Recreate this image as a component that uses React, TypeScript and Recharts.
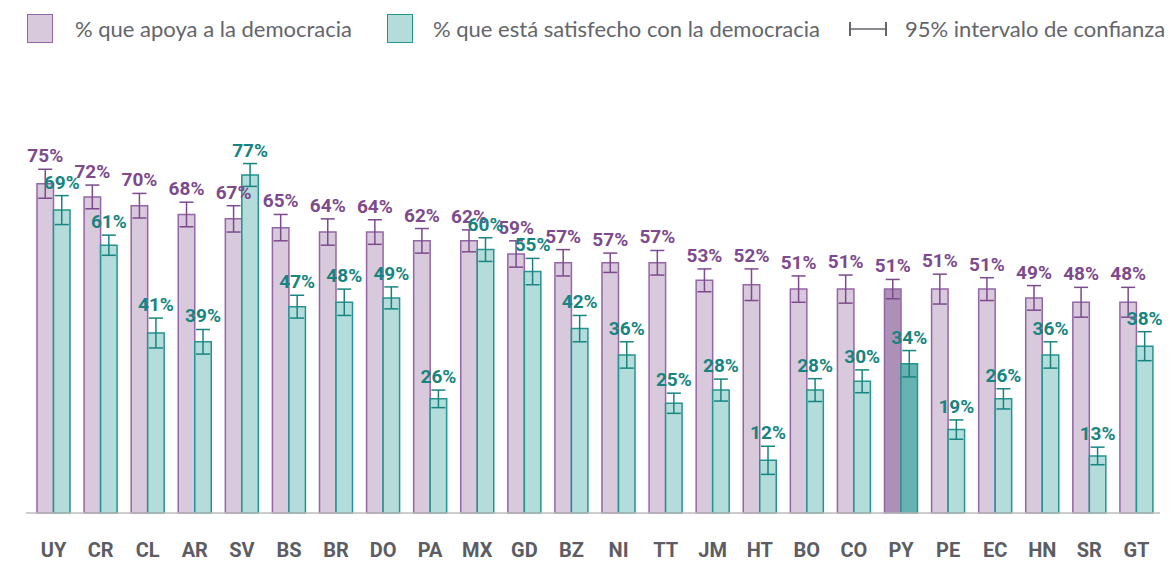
import React from 'react';
import { BarChart, Bar, XAxis, YAxis, ErrorBar, LabelList, Cell } from 'recharts';

const categories = ['UY', 'CR', 'CL', 'AR', 'SV', 'BS', 'BR', 'DO', 'PA', 'MX', 'GD', 'BZ', 'NI', 'TT', 'JM', 'HT', 'BO', 'CO', 'PY', 'PE', 'EC', 'HN', 'SR', 'GT'];
const apoyo = [75, 72, 70, 68, 67, 65, 64, 64, 62, 62, 59, 57, 57, 57, 53, 52, 51, 51, 51, 51, 51, 49, 48, 48];
const satisfecho = [69, 61, 41, 39, 77, 47, 48, 49, 26, 60, 55, 42, 36, 25, 28, 12, 28, 30, 34, 19, 26, 36, 13, 38];
const apoyoErr = [3.3, 2.7, 2.8, 2.8, 3.0, 3.0, 3.0, 2.8, 2.8, 2.5, 3.0, 3.0, 2.2, 2.8, 2.6, 3.6, 3.0, 3.2, 2.2, 3.4, 2.6, 2.8, 3.4, 3.4];
const satisfechoErr = [3.3, 2.3, 3.4, 2.8, 2.6, 2.6, 3.0, 2.5, 2.0, 2.7, 3.0, 3.0, 3.0, 2.3, 2.5, 3.2, 2.6, 2.6, 3.0, 2.2, 2.3, 3.0, 2.0, 3.3];
const highlight = 'PY';

const legendLabels = ['% que apoya a la democracia', '% que está satisfecho con la democracia', '95% intervalo de confianza'];

const data = categories.map((c, i) => ({
  name: c,
  apoyo: apoyo[i],
  satisfecho: satisfecho[i],
  apoyoErr: apoyoErr[i],
  satisfechoErr: satisfechoErr[i],
}));

const PURPLE_FILL = '#D9C9DC';
const PURPLE_STROKE = '#9466A5';
const PURPLE_DARK = '#AD90B7';
const PURPLE_TEXT = '#7C4A8D';
const TEAL_FILL = '#B3DCDB';
const TEAL_STROKE_SOLID = '#23948F';
const TEAL_DARK = '#66B4B2';
const TEAL_TEXT = '#168580';

const makeLabel = (errs: number[], color: string) => (props: any) => {
  const { x, y, width, height, value, index } = props;
  const pxPer = height / value;
  const top = y - errs[index] * pxPer;
  return (
    <text
      x={x + width / 2}
      y={top - 7}
      textAnchor="middle"
      fill={color}
      fontSize={19}
      fontWeight={700}
      fontFamily="Roboto"
    >
      {value}%
    </text>
  );
};

const legendText: React.CSSProperties = {
  position: 'absolute',
  top: 15,
  fontFamily: 'Lato',
  fontSize: 22,
  color: '#63656B',
  whiteSpace: 'nowrap',
  lineHeight: '28px',
};

export default function App() {
  return (
    <div style={{ position: 'absolute', left: 0, top: 0, width: 1172, height: 561, background: '#fff', overflow: 'hidden' }}>
      <div style={{ position: 'absolute', left: 27, top: 14, width: 24, height: 27, background: PURPLE_FILL, border: `1.5px solid ${PURPLE_STROKE}` }} />
      <div style={{ ...legendText, left: 75 }}>{legendLabels[0]}</div>
      <div style={{ position: 'absolute', left: 387, top: 14, width: 24, height: 27, background: TEAL_FILL, border: `1.5px solid ${TEAL_STROKE_SOLID}` }} />
      <div style={{ ...legendText, left: 433 }}>{legendLabels[1]}</div>
      <svg style={{ position: 'absolute', left: 848, top: 20 }} width={42} height={18}>
        <line x1={2} y1={2} x2={2} y2={16} stroke="#63656B" strokeWidth={2} />
        <line x1={2} y1={9} x2={38} y2={9} stroke="#63656B" strokeWidth={1.3} />
        <line x1={38} y1={2} x2={38} y2={16} stroke="#63656B" strokeWidth={2} />
      </svg>
      <div style={{ ...legendText, left: 905 }}>{legendLabels[2]}</div>

      <div style={{ position: 'absolute', left: 0, top: 0 }}>
        <BarChart
          width={1172}
          height={561}
          data={data}
          margin={{ top: 74, right: 12, bottom: 0, left: 26 }}
          barGap={0}
          barSize={16.5}
        >
          <YAxis hide domain={[0, 100]} />
          <XAxis
            dataKey="name"
            height={48}
            padding={{ left: 4, right: 0 }}
            axisLine={{ stroke: '#BDBDBD', strokeWidth: 1.5 }}
            tickLine={false}
            tickSize={0}
            tickMargin={30}
            interval={0}
            tick={{ fill: '#5C5D64', fontSize: 20, fontWeight: 700, fontFamily: 'Roboto' }}
          />
          <Bar dataKey="apoyo" fill={PURPLE_FILL} stroke={PURPLE_STROKE} strokeWidth={1.5} isAnimationActive={false}>
            {data.map((d) => (
              <Cell key={d.name} fill={d.name === highlight ? PURPLE_DARK : PURPLE_FILL} />
            ))}
            <ErrorBar dataKey="apoyoErr" width={7} stroke={PURPLE_TEXT} strokeWidth={1.5} />
            <LabelList dataKey="apoyo" content={makeLabel(apoyoErr, PURPLE_TEXT)} />
          </Bar>
          <Bar dataKey="satisfecho" fill={TEAL_FILL} stroke={TEAL_STROKE_SOLID} strokeWidth={1.5} isAnimationActive={false}>
            {data.map((d) => (
              <Cell key={d.name} fill={d.name === highlight ? TEAL_DARK : TEAL_FILL} />
            ))}
            <ErrorBar dataKey="satisfechoErr" width={7} stroke={TEAL_TEXT} strokeWidth={1.5} />
            <LabelList dataKey="satisfecho" content={makeLabel(satisfechoErr, TEAL_TEXT)} />
          </Bar>
        </BarChart>
      </div>
    </div>
  );
}
